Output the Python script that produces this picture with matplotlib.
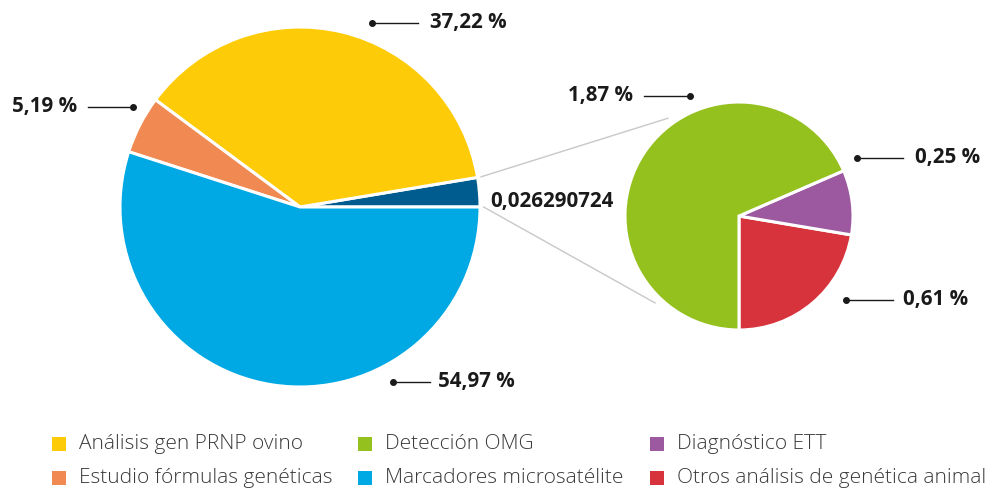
import numpy as np
import matplotlib.pyplot as plt
from matplotlib.patches import Rectangle
from matplotlib import font_manager

# main pie: share of each analysis type
main_labels = ['Otros', 'Análisis gen PRNP ovino', 'Estudio fórmulas genéticas', 'Marcadores microsatélite']
main_values = [0.026290724, 37.22 / 100, 5.19 / 100, 54.97 / 100]
main_colors = ['#005b8e', '#fdcb08', '#f08a52', '#00a8e4']

# breakdown of the small slice
sub_labels = ['Otros análisis de genética animal', 'Diagnóstico ETT', 'Detección OMG']
sub_values = [0.61, 0.25, 1.87]
sub_colors = ['#d6333c', '#9c59a0', '#95c11f']

legend_labels = ['Análisis gen PRNP ovino', 'Detección OMG', 'Diagnóstico ETT',
                 'Estudio fórmulas genéticas', 'Marcadores microsatélite', 'Otros análisis de genética animal']
legend_colors = ['#fdcb08', '#95c11f', '#9c59a0', '#f08a52', '#00a8e4', '#d6333c']

names = {f.name for f in font_manager.fontManager.ttflist}
fam = 'Open Sans' if 'Open Sans' in names else 'DejaVu Sans'
plt.rcParams['font.family'] = fam

W, H = 989, 494
fig = plt.figure(figsize=(W / 100, H / 100), dpi=100)
ax = fig.add_axes([0, 0, 1, 1])

def Y(y):
    # image-style y (from top) to axis y
    return H - y

c1, r1 = (300, Y(207)), 180
c2, r2 = (739, Y(216)), 114

w1, _ = ax.pie(main_values, colors=main_colors, startangle=0, center=c1, radius=r1,
               wedgeprops=dict(edgecolor='white', linewidth=2.2), frame=True)
w2, _ = ax.pie(sub_values, colors=sub_colors, startangle=-90, center=c2, radius=r2,
               wedgeprops=dict(edgecolor='white', linewidth=2.2), frame=True)
ax.set_xlim(0, W)
ax.set_ylim(0, H)
ax.set_aspect('equal')
ax.axis('off')

# connector lines from the small slice to the second pie
small = w1[0]
for a1, a2 in [(small.theta2, 126), (small.theta1, 226)]:
    p1 = (c1[0] + 1.02 * r1 * np.cos(np.radians(a1)), c1[1] + 1.02 * r1 * np.sin(np.radians(a1)))
    p2 = (c2[0] + 1.06 * r2 * np.cos(np.radians(a2)), c2[1] + 1.06 * r2 * np.sin(np.radians(a2)))
    ax.plot([p1[0], p2[0]], [p1[1], p2[1]], color='#c8c8c8', lw=1, zorder=0)

ax.text(490, Y(201), '{:.9f}'.format(main_values[0]).replace('.', ','), fontsize=14.8,
        fontweight='bold', ha='left', va='center', color='#1a1a1a')

def pct(v):
    return '{:.2f} %'.format(v).replace('.', ',')

# value labels: (text, dot x, line end x, y, text x, align)
callouts = [
    (pct(main_values[1] * 100), 372, 418, 23, 430, 'left'),
    (pct(main_values[2] * 100), 133, 88, 107, 77, 'right'),
    (pct(main_values[3] * 100), 393, 430, 382, 438, 'left'),
    (pct(sub_values[2]), 690, 644, 96, 633, 'right'),
    (pct(sub_values[1]), 857, 903, 158, 915, 'left'),
    (pct(sub_values[0]), 846, 893, 300, 903, 'left'),
]
for txt, xd, xe, y, xt, ha in callouts:
    ax.plot([xd, xe], [Y(y), Y(y)], color='#1a1a1a', lw=1)
    ax.plot(xd, Y(y), 'o', color='#1a1a1a', ms=4)
    ax.text(xt, Y(y), txt, fontsize=14.8, fontweight='bold', ha=ha, va='center', color='#1a1a1a')

# legend, drawn by hand in two rows
col_x = [52, 358, 650]
row_y = [444, 478]
for i, (lab, col) in enumerate(zip(legend_labels, legend_colors)):
    x = col_x[i % 3]
    y = row_y[i // 3]
    ax.add_patch(Rectangle((x, Y(y) - 7), 14, 14, color=col, lw=0))
    ax.text(x + 27, Y(y), lab, fontsize=15, fontweight='light', ha='left', va='center', color='#3a3a3a')

fig.savefig('out.png', dpi=100)
